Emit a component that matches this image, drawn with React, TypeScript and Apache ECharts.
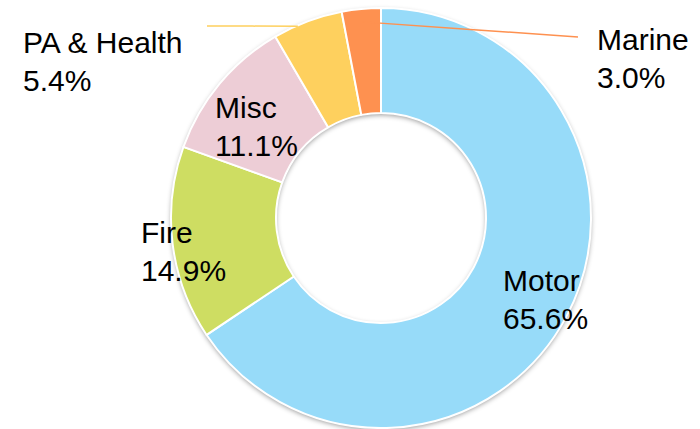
import React, { useEffect, useRef } from "react";
import * as echarts from "echarts";

const categories = ["Motor", "Fire", "Misc", "PA & Health", "Marine"];
const values = [65.6, 14.9, 11.1, 5.4, 3.0];
const colors = ["#97DBF9", "#CEDD62", "#EDCDD6", "#FED05E", "#FE9150"];

const CENTER = [381, 218];
const R_IN = 105;
const R_OUT = 210;
// label top-left positions
const LABEL_POS: number[][] = [
  [503, 261],
  [141, 213],
  [215, 88],
  [23, 23],
  [597, 20],
];
const SHOW_LINE = [false, false, false, true, true];
const LINE_START_R = [0, 0, 0, 209, 197];
const LINE_START_FRAC = [0.5, 0.5, 0.5, 0.35, 0.5];
const LINE_END: (number[] | null)[] = [null, null, null, [207, 26], [578, 37]];

export default function App() {
  const ref = useRef<HTMLDivElement>(null);
  useEffect(() => {
    if (!ref.current) return;
    const chart = echarts.init(ref.current, null, { renderer: "svg" });
    const total = values.reduce((a, b) => a + b, 0);
    const starts: number[] = [];
    let acc = 0;
    values.forEach((v) => {
      starts.push(acc);
      acc += v;
    });
    const labelCfg = {
      show: true,
      position: "outside",
      color: "#000000",
      fontSize: 30,
      lineHeight: 38,
      fontFamily: "Liberation Sans, Arial, sans-serif",
      formatter: (p: any) => `${p.name}\n${Number(p.value).toFixed(1)}%`,
    };
    chart.setOption({
      animation: false,
      backgroundColor: "#ffffff",
      series: [
        {
          type: "pie",
          silent: true,
          z: 1,
          center: CENTER,
          radius: [R_IN, R_OUT],
          label: { show: false },
          labelLine: { show: false },
          data: [{ value: 1, itemStyle: { color: "#ffffff" } }],
          itemStyle: {
            shadowBlur: 5,
            shadowColor: "rgba(0,0,0,0.4)",
            shadowOffsetX: 0,
            shadowOffsetY: 2,
          },
        },
        {
          type: "pie",
          z: 2,
          center: CENTER,
          radius: [R_IN, R_OUT],
          startAngle: 90,
          clockwise: true,
          itemStyle: { borderColor: "#ffffff", borderWidth: 2 },
          label: { show: false },
          labelLine: { show: false },
          data: categories.map((name, i) => ({
            name,
            value: values[i],
            itemStyle: { color: colors[i] },
          })),
        },
        {
          type: "pie",
          z: 3,
          silent: true,
          center: CENTER,
          radius: [R_IN, R_OUT],
          startAngle: 90,
          clockwise: true,
          avoidLabelOverlap: false,
          itemStyle: { color: "rgba(0,0,0,0)", borderWidth: 0 },
          label: labelCfg,
          labelLayout: (params: any) => {
            const i = params.dataIndex;
            const res: any = {
              x: LABEL_POS[i][0],
              y: LABEL_POS[i][1],
              align: "left",
              verticalAlign: "top",
            };
            const end = LINE_END[i];
            if (SHOW_LINE[i] && end) {
              const deg =
                ((starts[i] + values[i] * LINE_START_FRAC[i]) / total) * 360;
              const a = (deg * Math.PI) / 180;
              const r = LINE_START_R[i];
              const sx = CENTER[0] + r * Math.sin(a);
              const sy = CENTER[1] - r * Math.cos(a);
              res.labelLinePoints = [
                [sx, sy],
                [(sx + end[0]) / 2, (sy + end[1]) / 2],
                [end[0], end[1]],
              ];
            }
            return res;
          },
          data: categories.map((name, i) => ({
            name,
            value: values[i],
            labelLine: {
              show: SHOW_LINE[i],
              lineStyle: { color: colors[i], width: 1.5 },
            },
          })),
        },
      ],
    });
    return () => chart.dispose();
  }, []);
  return (
    <div
      ref={ref}
      style={{ position: "absolute", left: 0, top: 0, width: 700, height: 429 }}
    />
  );
}
